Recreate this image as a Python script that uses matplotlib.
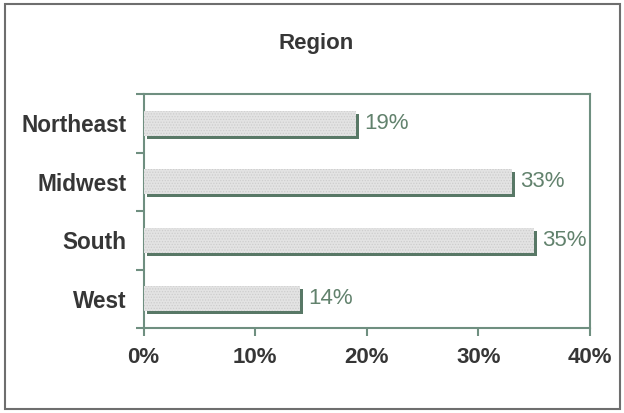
import numpy as np
import matplotlib.pyplot as plt
from matplotlib.patches import Rectangle
from matplotlib.transforms import ScaledTranslation

regions = ['Northeast', 'Midwest', 'South', 'West']
share = [19, 33, 35, 14]
xticks = [0, 10, 20, 30, 40]

plt.rcParams['font.family'] = ['Liberation Sans', 'DejaVu Sans']
plt.rcParams['hatch.linewidth'] = 0.6

axis_col = '#6f8f80'
shadow_col = '#587866'
text_col = '#363636'

fig = plt.figure(figsize=(6.24, 4.13), dpi=100)
ax = fig.add_axes([0.230, 0.2058, 0.7155, 0.5666])

y = np.arange(len(regions))
bar_h = 0.43

# solid drop shadow, shifted 3 px right and down
shift = ax.transData + ScaledTranslation(0.03, -0.03, fig.dpi_scale_trans)
ax.barh(y, share, height=bar_h, color=shadow_col, linewidth=0, zorder=2, transform=shift)
ax.barh(y, share, height=bar_h, color='#e3e3e3', edgecolor='#cdcdcd',
        linewidth=0, hatch='......', zorder=3)

# value labels just past the shadow
for yi, v in zip(y, share):
    ax.annotate(f'{v}%', xy=(v, yi), xytext=(6, 0), textcoords='offset points',
                va='center', ha='left', fontsize=16, color='#62826d')

ax.set_xlim(0, 40)
ax.set_ylim(len(regions) - 0.5, -0.5)
ax.set_xticks(xticks)
ax.set_xticklabels([f'{t}%' for t in xticks], fontsize=16, fontweight='bold', color=text_col)
ax.set_yticks(y)
ax.set_yticklabels(regions, fontsize=16.3, fontweight='bold', color=text_col)
ax.set_yticks(np.arange(-0.5, len(regions)), minor=True)

ax.tick_params(axis='y', which='major', length=0, pad=12.5)
ax.tick_params(axis='y', which='minor', length=6, width=1.5, color=axis_col, direction='out')
ax.tick_params(axis='x', length=5.5, width=1.5, color=axis_col, direction='out', pad=8)

for s in ax.spines.values():
    s.set_color(axis_col)
    s.set_linewidth(1.5)

fig.text(0.506, 0.8935, 'Region', ha='center', va='center', fontsize=16,
         fontweight='bold', color=text_col)

# frame around the whole figure
fig.patches.append(Rectangle((5 / 624, 4 / 413), 615 / 624, 405 / 413, transform=fig.transFigure,
                             fill=False, edgecolor='#6e6e6e', linewidth=1.5))

fig.savefig('out.png', dpi=100)
